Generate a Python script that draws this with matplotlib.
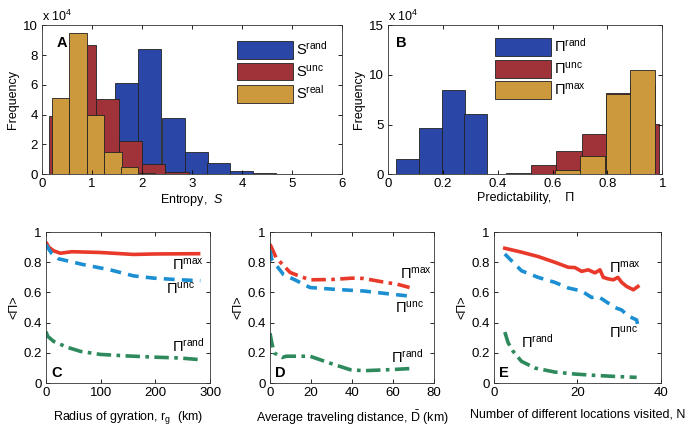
import matplotlib
matplotlib.use("Agg")
from matplotlib import pyplot as plt
from matplotlib.patches import Patch

plt.rcParams['font.family'] = ['Liberation Sans', 'DejaVu Sans']
plt.rcParams['font.size'] = 9
plt.rcParams['xtick.labelsize'] = 9.5
plt.rcParams['ytick.labelsize'] = 9.5
plt.rcParams['mathtext.fontset'] = 'custom'
plt.rcParams['mathtext.rm'] = 'Liberation Sans'
plt.rcParams['mathtext.it'] = 'Liberation Sans:italic'

# ---- panel A: entropy histograms (x10^4) ----
s_rand_left = [1.01, 1.47, 1.93, 2.40, 2.85, 3.30, 3.75, 4.21, 4.67]
s_rand_h = [2.0, 6.1, 8.4, 3.8, 1.5, 0.75, 0.2, 0.07, 0.03]
s_unc_left = [0.15, 0.61, 1.08, 1.54, 2.00, 2.47]
s_unc_h = [3.9, 8.65, 5.05, 2.2, 0.7, 0.15]
s_real_left = [0.20, 0.55, 0.90, 1.25, 1.58, 1.92, 2.27]
s_real_h = [5.1, 9.5, 4.0, 1.5, 0.45, 0.1, 0.02]

# ---- panel B: predictability histograms (x10^4) ----
p_rand_left = [0.03, 0.112, 0.197, 0.278, 0.36]
p_rand_h = [1.5, 4.7, 8.45, 6.1, 0.03]
p_unc_left = [0.43, 0.52, 0.613, 0.706, 0.794, 0.882, 0.975]
p_unc_h = [0.15, 0.9, 2.3, 4.0, 8.15, 9.0, 5.1]
p_unc_w = [0.09, 0.093, 0.093, 0.088, 0.088, 0.093, 0.012]
p_max_left = [0.61, 0.70, 0.794, 0.882]
p_max_h = [0.45, 1.8, 8.05, 10.45]

# ---- panel C: vs radius of gyration ----
c_x_max = [0, 5, 14, 26, 47, 99, 160, 197, 282]
c_max = [0.934, 0.90, 0.876, 0.86, 0.87, 0.865, 0.852, 0.855, 0.857]
c_x_unc = [0, 10, 23, 69, 117, 160, 197, 245, 282]
c_unc = [0.916, 0.86, 0.823, 0.784, 0.75, 0.71, 0.695, 0.684, 0.678]
c_x_rand = [0, 3, 14, 38, 63, 99, 148, 197, 245, 282]
c_rand = [0.34, 0.31, 0.276, 0.238, 0.21, 0.19, 0.18, 0.172, 0.166, 0.155]

# ---- panel D: vs average traveling distance ----
d_x_max = [0, 3, 9.8, 14, 19.5, 30, 40, 45.5, 55, 62, 68]
d_max = [0.92, 0.83, 0.733, 0.71, 0.684, 0.686, 0.695, 0.693, 0.67, 0.655, 0.633]
d_x_unc = [0, 0.8, 6.5, 13, 19.5, 32.5, 45.5, 58.5, 70]
d_unc = [0.88, 0.82, 0.72, 0.678, 0.633, 0.62, 0.61, 0.59, 0.573]
d_x_rand = [0, 1, 2, 6, 8, 19.5, 29, 39, 45.5, 58.5, 68]
d_rand = [0.33, 0.26, 0.2, 0.17, 0.178, 0.178, 0.133, 0.089, 0.082, 0.089, 0.096]

# ---- panel E: vs number of locations ----
e_x_max = [2.6, 6.6, 10.6, 14.6, 17.8, 19.4, 21, 22.6, 24.2, 25.4, 26.2, 27.4, 28.6, 29.7, 30.6, 31.8, 33.4, 34.5]
e_max = [0.893, 0.867, 0.838, 0.80, 0.767, 0.765, 0.74, 0.75, 0.73, 0.75, 0.70, 0.69, 0.684, 0.70, 0.667, 0.64, 0.618, 0.64]
e_x_unc = [2.6, 6.6, 10.6, 14.6, 17.8, 21, 23.4, 25, 26.6, 29, 30.6, 32.2, 34.2, 34.6]
e_unc = [0.855, 0.744, 0.70, 0.667, 0.63, 0.61, 0.567, 0.573, 0.544, 0.50, 0.484, 0.444, 0.418, 0.362]
e_x_rand = [2.6, 3.4, 4.6, 6.6, 9.8, 14.6, 19.4, 24.2, 29, 34.2]
e_rand = [0.338, 0.267, 0.21, 0.144, 0.10, 0.073, 0.06, 0.051, 0.044, 0.038]

BLUE = '#2a47a8'
RED = '#a0323a'
GOLD = '#cc9a3c'
L_RED = '#e8392a'
L_BLUE = '#1b8fd2'
L_GREEN = '#2e8a5c'


def style(ax):
    ax.tick_params(direction='in', top=True, right=True, length=3, width=0.6, pad=3)
    for sp in ax.spines.values():
        sp.set_linewidth(0.6)
        sp.set_color('#333333')


fig = plt.figure(figsize=(6.87, 4.29), dpi=100)

# panel A
axA = fig.add_axes([0.061, 0.594, 0.437, 0.347])
axA.bar(s_rand_left, s_rand_h, width=0.46, align='edge', color=BLUE, edgecolor='#222222', linewidth=0.6)
axA.bar(s_unc_left, s_unc_h, width=0.465, align='edge', color=RED, edgecolor='#222222', linewidth=0.6)
axA.bar(s_real_left, s_real_h, width=0.345, align='edge', color=GOLD, edgecolor='#222222', linewidth=0.6)
axA.set_xlim(0, 6)
axA.set_ylim(0, 10)
axA.set_yticks([0, 2, 4, 6, 8, 10])
axA.set_xlabel('Entropy,  $\\mathit{S}$', labelpad=1)
axA.set_ylabel('Frequency', labelpad=3)
axA.text(0, 1.03, 'x 10$^4$', transform=axA.transAxes, fontsize=9)
axA.text(0.05, 0.93, 'A', transform=axA.transAxes, fontweight='bold', fontsize=10.5, va='top')
hA = [Patch(facecolor=c, edgecolor='#222222', linewidth=0.6) for c in (BLUE, RED, GOLD)]
axA.legend(hA, ['S$^{\\mathrm{rand}}$', 'S$^{\\mathrm{unc}}$', 'S$^{\\mathrm{real}}$'],
           loc='upper right', frameon=False, handlelength=3.8, handleheight=1.5,
           handletextpad=0.2, labelspacing=0.25, fontsize=10.5, borderaxespad=0.6)
style(axA)

# panel B
axB = fig.add_axes([0.565, 0.594, 0.399, 0.347])
axB.bar(p_rand_left, p_rand_h, width=0.083, align='edge', color=BLUE, edgecolor='#222222', linewidth=0.6)
axB.bar(p_unc_left, p_unc_h, width=p_unc_w, align='edge', color=RED, edgecolor='#222222', linewidth=0.6)
axB.bar(p_max_left, p_max_h, width=0.092, align='edge', color=GOLD, edgecolor='#222222', linewidth=0.6)
axB.set_xlim(0, 1)
axB.set_ylim(0, 15)
axB.set_yticks([0, 5, 10, 15])
axB.set_xticks([0, 0.2, 0.4, 0.6, 0.8, 1])
axB.set_xticklabels(['0', '0.2', '0.4', '0.6', '0.8', '1'])
axB.set_xlabel('Predictability,    Π', labelpad=1)
axB.set_ylabel('Frequency', labelpad=3)
axB.text(0, 1.03, 'x 10$^4$', transform=axB.transAxes, fontsize=9)
axB.text(0.03, 0.93, 'B', transform=axB.transAxes, fontweight='bold', fontsize=10.5, va='top')
hB = [Patch(facecolor=c, edgecolor='#222222', linewidth=0.6) for c in (BLUE, RED, GOLD)]
axB.legend(hB, ['Π$^{\\mathrm{rand}}$', 'Π$^{\\mathrm{unc}}$', 'Π$^{\\mathrm{max}}$'],
           loc='upper left', bbox_to_anchor=(0.37, 0.96), frameon=False, handlelength=3.8,
           handleheight=1.5, handletextpad=0.2, labelspacing=0.25, fontsize=10.5, borderaxespad=0)
style(axB)


def line_panel(rect, letter, xlabel, xlim, xticks):
    ax = fig.add_axes(rect)
    ax.set_xlim(*xlim)
    ax.set_ylim(0, 1)
    ax.set_xticks(xticks)
    ax.set_yticks([0, 0.2, 0.4, 0.6, 0.8, 1])
    ax.set_yticklabels(['0', '0.2', '0.4', '0.6', '0.8', '1'])
    ax.set_xlabel(xlabel, labelpad=7)
    ax.set_ylabel('<Π>', labelpad=2)
    ax.text(0.03, 0.04, letter, transform=ax.transAxes, fontweight='bold', fontsize=10.5)
    style(ax)
    return ax


axC = line_panel([0.067, 0.107, 0.239, 0.352], 'C', 'Radius of gyration, r$_\\mathrm{g}$  (km)',
                 (0, 300), [0, 100, 200, 300])
axC.plot(c_x_max, c_max, color=L_RED, lw=2.6, solid_capstyle='butt')
axC.plot(c_x_unc, c_unc, color=L_BLUE, lw=2.6, ls=(0, (3, 2)))
axC.plot(c_x_rand, c_rand, color=L_GREEN, lw=2.6, ls=(0, (4, 1.5, 1, 1.5)))
axC.text(231, 0.75, 'Π$^{\\mathrm{max}}$', fontsize=10.5)
axC.text(219, 0.59, 'Π$^{\\mathrm{unc}}$', fontsize=10.5)
axC.text(231, 0.21, 'Π$^{\\mathrm{rand}}$', fontsize=10.5)

axD = line_panel([0.393, 0.107, 0.239, 0.352], 'D', 'Average traveling distance, $\\bar{\\mathrm{D}}$ (km)',
                 (0, 80), [0, 20, 40, 60, 80])
axD.plot(d_x_max, d_max, color=L_RED, lw=2.6, ls=(0, (4, 1.5, 1, 1.5)))
axD.plot(d_x_unc, d_unc, color=L_BLUE, lw=2.6, ls=(0, (3, 2)))
axD.plot(d_x_rand, d_rand, color=L_GREEN, lw=2.6, ls=(0, (4, 1.5, 1, 1.5)))
axD.text(63.5, 0.69, 'Π$^{\\mathrm{max}}$', fontsize=10.5)
axD.text(61, 0.47, 'Π$^{\\mathrm{unc}}$', fontsize=10.5)
axD.text(59, 0.135, 'Π$^{\\mathrm{rand}}$', fontsize=10.5)

axE = line_panel([0.719, 0.107, 0.243, 0.352], 'E', 'Number of different locations visited, N',
                 (0, 40), [0, 20, 40])
axE.plot(e_x_max, e_max, color=L_RED, lw=2.6)
axE.plot(e_x_unc, e_unc, color=L_BLUE, lw=2.6, ls=(0, (3, 2)))
axE.plot(e_x_rand, e_rand, color=L_GREEN, lw=2.6, ls=(0, (4, 1.5, 1, 1.5)))
axE.text(27.6, 0.735, 'Π$^{\\mathrm{max}}$', fontsize=10.5)
axE.text(27.6, 0.30, 'Π$^{\\mathrm{unc}}$', fontsize=10.5)
axE.text(6.6, 0.235, 'Π$^{\\mathrm{rand}}$', fontsize=10.5)

fig.savefig('out.png', dpi=100)
